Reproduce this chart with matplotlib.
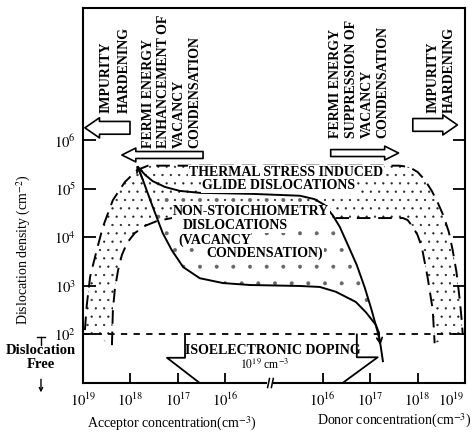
import matplotlib
matplotlib.use('Agg')
import matplotlib.pyplot as plt
import numpy as np
from matplotlib.patches import Polygon, Rectangle
from matplotlib.ticker import NullLocator

plt.rcParams['font.family'] = ['Liberation Serif', 'DejaVu Serif']
plt.rcParams['mathtext.fontset'] = 'stix'
plt.rcParams['hatch.linewidth'] = 0.4

# x axis is broken: one unit per decade, acceptor side on the left, donor side on the right
acceptor_exp = [19, 18, 17, 16]
donor_exp = [16, 17, 18, 19]
density_exp = [2, 3, 4, 5, 6]
acceptor_pos = [19 - e for e in acceptor_exp]
donor_pos = [5.05 + e - 16 for e in donor_exp]
break_pos = 3.94

# outer boundary of thermal stress induced glide dislocations (log10 density)
outer_x = [0.04, 0.08, 0.15, 0.29, 0.42, 0.63, 0.88, 1.14, 1.37,
           6.67, 6.88, 7.05, 7.20, 7.35, 7.47, 7.60, 7.71, 7.79, 7.87, 7.94, 7.98, 8.0]
outer_logn = [2.09, 2.61, 3.19, 3.74, 4.22, 4.77, 5.14, 5.39, 5.48,
              5.48, 5.45, 5.35, 5.19, 4.96, 4.73, 4.44, 4.11, 3.74, 3.29, 2.71, 2.30, 2.03]

# inner boundary
inner_x = [0.61, 0.63, 0.67, 0.74, 0.82, 0.93, 1.09, 1.31, 1.56, 1.87,
           6.74, 6.84, 6.95, 7.05, 7.14, 7.26, 7.37, 7.41]
inner_logn = [1.78, 2.51, 2.92, 3.33, 3.64, 3.89, 4.09, 4.24, 4.34, 4.40,
              4.40, 4.36, 4.22, 4.05, 3.80, 3.19, 2.51, 1.82]

# non-stoichiometry (vacancy condensation) region
ns_upper_x = [1.16, 1.31, 1.47, 1.73, 2.04, 2.46, 3.52, 4.57, 4.88, 5.09,
              5.26, 5.41, 5.58, 5.77, 5.94, 6.08, 6.21, 6.27, 6.32]
ns_upper_logn = [5.45, 5.29, 5.16, 5.04, 4.96, 4.92, 4.90, 4.86, 4.79, 4.67,
                 4.46, 4.22, 3.85, 3.43, 2.96, 2.51, 2.05, 1.78, 1.45]
ns_lower_x = [1.16, 1.26, 1.47, 1.68, 1.87, 2.11, 2.46, 2.95, 3.52, 4.57,
              4.99, 5.33, 5.75, 5.96, 6.17, 6.23]
ns_lower_logn = [5.45, 5.19, 4.63, 4.09, 3.74, 3.39, 3.16, 3.06, 3.02, 3.0,
                 2.98, 2.88, 2.67, 2.46, 2.20, 2.05]

# isoelectronic doping block arrow (two flanks)
iso_left_x = [2.15, 2.15, 1.77, 2.46]
iso_left_logn = [2.0, 1.52, 1.52, 1.0]
iso_right_x = [5.77, 5.77, 6.21, 5.47]
iso_right_logn = [2.0, 1.53, 1.53, 1.0]

dislocation_free_logn = 2.0


def dens(v):
    return 10 ** np.asarray(v, dtype=float)


fig = plt.figure(figsize=(4.76, 4.34), dpi=100)
ax = fig.add_axes([83 / 476, 51 / 434, 382 / 476, 375 / 434])
ax.set_yscale('log')
ax.set_xlim(0, 8.05)
ax.set_ylim(10, 10 ** 8.73)

# stippled areas
band = np.column_stack([outer_x + inner_x[::-1], dens(outer_logn + inner_logn[::-1])])
ax.add_patch(Polygon(band, closed=True, facecolor='none', edgecolor='0.15', lw=0, hatch='..'))
lens = np.column_stack([ns_upper_x + ns_lower_x[::-1], dens(ns_upper_logn + ns_lower_logn[::-1])])
ax.add_patch(Polygon(lens, closed=True, facecolor='none', edgecolor='0.4', lw=0, hatch='.'))

ax.plot(outer_x, dens(outer_logn), color='black', lw=1.4, ls=(0, (7, 4)))
ax.plot(inner_x, dens(inner_logn), color='black', lw=1.4, ls=(0, (7, 4)))
ax.axhline(10 ** dislocation_free_logn, color='black', lw=1.3, ls=(0, (3.5, 3.5)))
ax.plot(ns_upper_x, dens(ns_upper_logn), color='black', lw=1.4)
ax.plot(ns_lower_x, dens(ns_lower_logn), color='black', lw=1.4)
ax.annotate('', xy=(ns_upper_x[0] - 0.03, 10 ** (ns_upper_logn[0] + 0.04)),
            xytext=(ns_lower_x[1], 10 ** ns_lower_logn[1]),
            arrowprops=dict(arrowstyle='->', lw=1.2, mutation_scale=10, shrinkA=0, shrinkB=0))
ax.annotate('', xy=(ns_upper_x[-2], 10 ** ns_upper_logn[-2]),
            xytext=(ns_lower_x[-1], 10 ** ns_lower_logn[-1]),
            arrowprops=dict(arrowstyle='->', lw=1.2, mutation_scale=10, shrinkA=0, shrinkB=0))
ax.plot(iso_left_x, dens(iso_left_logn), color='black', lw=1.3)
ax.plot(iso_right_x, dens(iso_right_logn), color='black', lw=1.3)

# hollow block arrows
big = 'simple,head_length=1.05,head_width=1.45,tail_width=0.92'
small = 'simple,head_length=1.0,head_width=1.0,tail_width=0.5'
for tip, tail, lv, style in [(0.04, 0.99, 6.26, big), (0.82, 2.53, 5.70, small),
                             (6.65, 5.22, 5.74, small), (7.89, 6.95, 6.32, big)]:
    ax.annotate('', xy=(tip, 10 ** lv), xytext=(tail, 10 ** lv),
                arrowprops=dict(arrowstyle=style, mutation_scale=10, fc='white', ec='black',
                                lw=1.2, shrinkA=0, shrinkB=0))

bold = dict(fontsize=10, fontweight='bold', color='black')
white = dict(boxstyle='square,pad=0.05', fc='white', ec='none')
ax.text(0.084, 0.72, 'IMPURITY\nHARDENING', transform=ax.transAxes, rotation=90,
        ha='center', va='bottom', multialignment='left', linespacing=1.45, **bold)
ax.text(0.232, 0.628, 'FERMI ENERGY\nENHANCEMENT OF\nVACANCY\nCONDENSATION', transform=ax.transAxes,
        rotation=90, ha='center', va='bottom', multialignment='left', linespacing=1.25, **bold)
ax.text(0.723, 0.653, 'FERMI ENERGY\nSUPPRESSION OF\nVACANCY\nCONDENSATION', transform=ax.transAxes,
        rotation=90, ha='center', va='bottom', multialignment='left', linespacing=1.25, **bold)
ax.text(0.937, 0.72, 'IMPURITY\nHARDENING', transform=ax.transAxes, rotation=90,
        ha='center', va='bottom', multialignment='left', linespacing=1.3, **bold)

ax.text(4.28, 10 ** 5.34, 'THERMAL STRESS INDUCED', ha='center', va='center', bbox=white, **bold)
ax.text(4.12, 10 ** 5.07, 'GLIDE DISLOCATIONS', ha='center', va='center', bbox=white, **bold)
ax.text(1.89, 10 ** 4.53, 'NON-STOICHIOMETRY', ha='left', va='center', bbox=white, **bold)
ax.text(2.11, 10 ** 4.25, 'DISLOCATIONS', ha='left', va='center', bbox=white, **bold)
ax.text(2.0, 10 ** 3.95, '(VACANCY', ha='left', va='center', bbox=white, **bold)
ax.text(2.61, 10 ** 3.68, 'CONDENSATION)', ha='left', va='center', bbox=white, **bold)
ax.text(4.0, 10 ** 1.68, 'ISOELECTRONIC DOPING', ha='center', va='center', **bold)
ax.text(3.83, 10 ** 1.38, r'$10^{19}$ cm$^{-3}$', ha='center', va='center', fontsize=8.5)

# axis break mark
ax.add_patch(Rectangle((break_pos - 0.07, -0.01), 0.14, 0.02, transform=ax.get_xaxis_transform(),
                       facecolor='white', edgecolor='none', clip_on=False, zorder=5))
for dx in (-0.05, 0.03):
    ax.plot([break_pos + dx, break_pos + dx + 0.04], [-0.012, 0.012], color='black', lw=1.1,
            transform=ax.get_xaxis_transform(), clip_on=False, zorder=6)

ax.set_xticks(acceptor_pos + donor_pos)
ax.set_xticklabels([f'$10^{{{e}}}$' for e in acceptor_exp + donor_exp])
ax.set_yticks([10 ** e for e in density_exp])
ax.set_yticklabels([f'$10^{{{e}}}$' for e in density_exp])
ax.yaxis.set_minor_locator(NullLocator())
ax.tick_params(axis='both', direction='in', width=1.3, labelsize=10.5, right=True)
ax.tick_params(axis='y', length=9, pad=5)
ax.tick_params(axis='x', length=7, pad=6)
ax.get_xticklabels()[-1].set_horizontalalignment('right')
for s in ax.spines.values():
    s.set_linewidth(1.5)

ax.set_ylabel('Dislocation density (cm$^{-2}$)', fontsize=10)
ax.yaxis.set_label_coords(-0.13, 0.357)
ax.text(-0.11, 0.067, 'Dislocation\nFree', transform=ax.transAxes, ha='center', va='center',
        fontsize=10.5, fontweight='bold', linespacing=1.1)
ax.plot([-0.12, -0.10], [0.122, 0.122], color='black', lw=1, transform=ax.transAxes, clip_on=False)
ax.plot([-0.11, -0.11], [0.122, 0.102], color='black', lw=1, transform=ax.transAxes, clip_on=False)
ax.annotate('', xy=(-0.11, -0.025), xytext=(-0.11, 0.01), xycoords='axes fraction',
            arrowprops=dict(arrowstyle='->', lw=1, mutation_scale=6, shrinkA=0, shrinkB=0))
ax.text(0.233, -0.11, 'Acceptor concentration(cm$^{-3}$)', transform=ax.transAxes,
        ha='center', va='center', fontsize=10)
ax.text(0.815, -0.10, 'Donor concentration(cm$^{-3}$)', transform=ax.transAxes,
        ha='center', va='center', fontsize=10)

fig.savefig('out.png', dpi=100)
